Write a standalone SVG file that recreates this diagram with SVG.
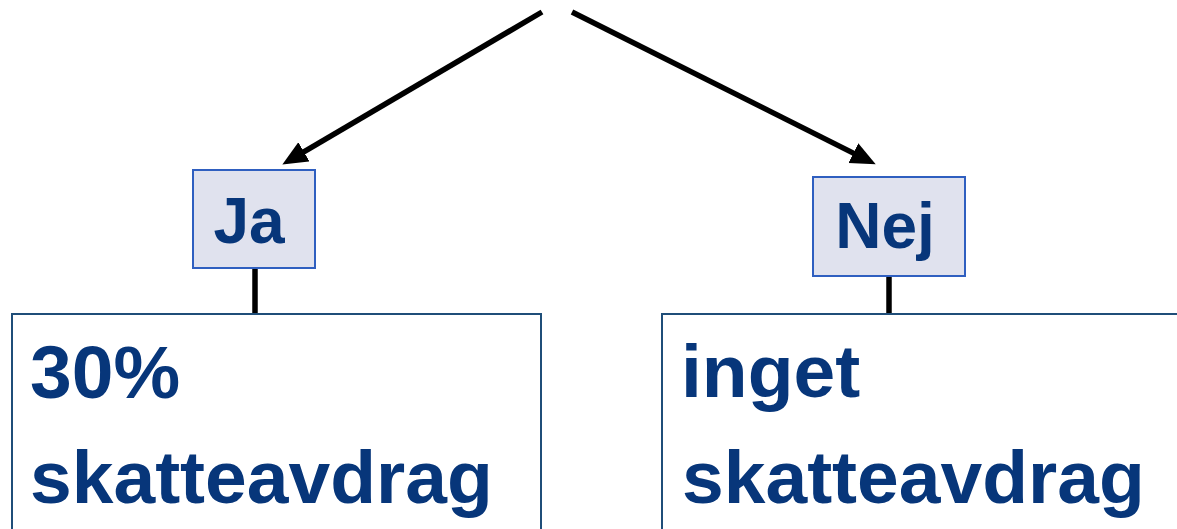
<svg xmlns="http://www.w3.org/2000/svg" width="1177" height="529" viewBox="0 0 1177 529">
<style>
.t{font-family:"Liberation Sans",Arial,sans-serif;font-weight:bold;fill:#07367a}
.big{font-size:75px}
.lbl{font-size:64px}
.small{fill:#e0e2ee;stroke:#2f5fc0;stroke-width:2}
.box{fill:#ffffff;stroke:#1f4e79;stroke-width:2}
.c{stroke:#000;stroke-width:5.5;fill:none}
</style>
<defs>
<marker id="ah" markerUnits="userSpaceOnUse" markerWidth="28" markerHeight="24" refX="10" refY="11" orient="auto">
<path d="M0,0 L25,11 L0,22 z" fill="#000"/>
</marker>
</defs>
<rect width="1177" height="529" fill="#fff"/>
<text class="t big" x="785" y="-15">g</text>
<g id="connectors">
<line class="c" x1="542" y1="12" x2="295.3" y2="156.9" marker-end="url(#ah)"/>
<line class="c" x1="572" y1="12" x2="862.3" y2="157.6" marker-end="url(#ah)"/>
<line class="c" x1="255" y1="268" x2="255" y2="314"/>
<line class="c" x1="889" y1="276" x2="889" y2="314"/>
</g>
<g id="ja">
<rect class="small" x="193" y="170" width="122" height="98"/>
<text class="t lbl" x="249" y="243" text-anchor="middle">Ja</text>
</g>
<g id="nej">
<rect class="small" x="813" y="177" width="152" height="99"/>
<text class="t lbl" x="885" y="248" text-anchor="middle">Nej</text>
</g>
<g id="yes-result">
<rect class="box" x="12" y="314" width="529" height="230"/>
<text class="t big" x="30" y="398">30%</text>
<text class="t big" x="30" y="503">skatteavdrag</text>
</g>
<g id="no-result">
<rect class="box" x="662" y="314" width="530" height="230"/>
<text class="t big" x="681" y="397">inget</text>
<text class="t big" x="682" y="503">skatteavdrag</text>
</g>
</svg>
